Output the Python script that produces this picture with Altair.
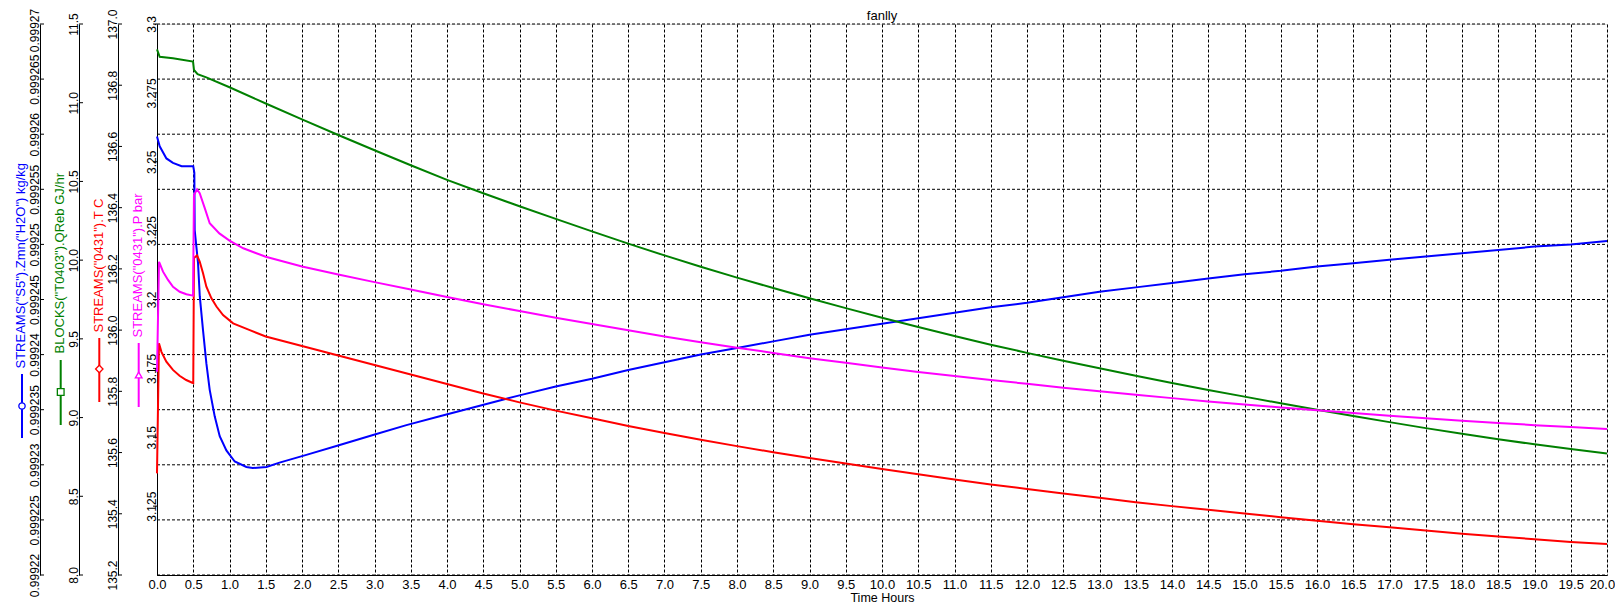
import altair as alt
import pandas as pd

FONT = "Liberation Sans, Arial, sans-serif"

# ---------------- data ----------------
# STREAMS("S5").Zmn("H2O") kg/kg  (blue)
t_blue = [0.0, 0.037, 0.13, 0.22, 0.34, 0.5, 0.515, 0.52, 0.566, 0.59,
          0.635, 0.681, 0.727, 0.796, 0.865, 0.957, 1.072, 1.233, 1.32, 1.51,
          1.69, 2.06, 2.52, 2.98, 3.44, 3.9, 4.36, 4.82,
          5.0, 5.5, 6.0, 6.5, 7.0, 7.5, 8.0, 8.5, 9.0, 9.5, 10.0, 10.5, 11.0, 11.5,
          12.0, 12.5, 13.0, 13.5, 14.0, 14.5, 15.0, 15.5, 16.0, 16.5, 17.0, 17.5,
          18.0, 18.5, 19.0, 19.5, 20.0]
zmn_h2o = [0.9992598, 0.9992589, 0.9992578, 0.9992574, 0.9992571, 0.9992571, 0.9992565, 0.9992513, 0.9992483, 0.9992453,
           0.9992422, 0.9992392, 0.9992368, 0.9992344, 0.9992326, 0.9992313, 0.9992303, 0.9992298, 0.9992297, 0.9992298,
           0.9992302, 0.9992309, 0.9992318, 0.9992327, 0.9992336, 0.9992344, 0.9992352, 0.9992360,
           0.9992363, 0.9992371, 0.9992378, 0.9992386, 0.9992393, 0.9992400, 0.9992406, 0.9992412, 0.9992418, 0.9992423,
           0.9992428, 0.9992433, 0.9992438, 0.9992443, 0.9992447, 0.9992452, 0.9992457, 0.9992461, 0.9992465, 0.9992469,
           0.9992473, 0.9992476, 0.9992480, 0.9992483, 0.9992486, 0.9992489, 0.9992492, 0.9992495, 0.9992498, 0.9992500,
           0.9992503]

# BLOCKS("T0403").QReb GJ/hr  (green)
t_green = [0.0, 0.037, 0.22, 0.497, 0.51, 0.56, 0.68,
           1.0, 1.5, 2.0, 2.5, 3.0, 3.5, 4.0, 4.5, 5.0, 5.5, 6.0, 6.5, 7.0, 7.5, 8.0, 8.5,
           9.0, 9.5, 10.0, 10.5, 11.0, 11.5, 12.0, 12.5, 13.0, 13.5, 14.0, 14.5, 15.0, 15.5,
           16.0, 16.5, 17.0, 17.5, 18.0, 18.5, 19.0, 19.5, 20.0]
qreb = [11.339, 11.292, 11.282, 11.261, 11.208, 11.182, 11.161,
        11.098, 10.995, 10.894, 10.795, 10.698, 10.603, 10.510, 10.425, 10.342, 10.262, 10.183, 10.105,
        10.030, 9.958, 9.889, 9.823, 9.758, 9.695, 9.634, 9.575, 9.518, 9.463, 9.411, 9.361, 9.313,
        9.265, 9.219, 9.175, 9.133, 9.091, 9.050, 9.010, 8.971, 8.933, 8.897, 8.863, 8.830, 8.800, 8.772]

# STREAMS("0431").T C  (red)
t_red = [0.0, 0.027, 0.061, 0.129, 0.22, 0.311, 0.403, 0.486, 0.5, 0.51,
         0.552, 0.589, 0.635, 0.681, 0.751, 0.82, 0.911, 1.05, 1.28, 1.5,
         2.0, 2.5, 3.0, 3.5, 4.0, 4.5, 5.0, 5.5, 6.0, 6.5, 7.0, 7.5, 8.0, 8.5,
         9.0, 9.5, 10.0, 10.5, 11.0, 11.5, 12.0, 12.5, 13.0, 13.5, 14.0, 14.5, 15.0, 15.5,
         16.0, 16.5, 17.0, 17.5, 18.0, 18.5, 19.0, 19.5, 20.0]
temp_c = [135.532, 135.957, 135.929, 135.897, 135.870, 135.851, 135.837, 135.828, 135.827, 136.236,
          136.244, 136.224, 136.186, 136.142, 136.104, 136.077, 136.049, 136.022, 136.000, 135.979,
          135.948, 135.917, 135.886, 135.855, 135.824, 135.793, 135.764, 135.737, 135.712, 135.687,
          135.664, 135.642, 135.621, 135.601, 135.582, 135.564, 135.546, 135.529, 135.512, 135.496,
          135.481, 135.466, 135.452, 135.438, 135.425, 135.413, 135.401, 135.389, 135.377, 135.366,
          135.356, 135.345, 135.335, 135.326, 135.317, 135.308, 135.301]

# STREAMS("0431").P bar  (magenta)
t_mag = [0.0, 0.028, 0.037, 0.083, 0.152, 0.221, 0.313, 0.405, 0.497, 0.51,
         0.552, 0.589, 0.66, 0.727, 0.86, 1.0, 1.19, 1.5,
         2.0, 2.5, 3.0, 3.5, 4.0, 4.5, 5.0, 5.5, 6.0, 6.5, 7.0, 7.5, 8.0, 8.5,
         9.0, 9.5, 10.0, 10.5, 11.0, 11.5, 12.0, 12.5, 13.0, 13.5, 14.0, 14.5, 15.0, 15.5,
         16.0, 16.5, 17.0, 17.5, 18.0, 18.5, 19.0, 19.5, 20.0]
pres_bar = [3.1738, 3.2137, 3.2131, 3.2101, 3.2071, 3.2046, 3.2028, 3.2019, 3.2014, 3.2379,
            3.2400, 3.2386, 3.2331, 3.2277, 3.2240, 3.2214, 3.2186, 3.2155,
            3.2120, 3.2091, 3.2063, 3.2036, 3.2009, 3.1983, 3.1958, 3.1934, 3.1911, 3.1888,
            3.1866, 3.1845, 3.1825, 3.1806, 3.1787, 3.1770, 3.1753, 3.1737, 3.1722, 3.1708,
            3.1694, 3.1680, 3.1667, 3.1654, 3.1642, 3.1630, 3.1619, 3.1608, 3.1598, 3.1588,
            3.1578, 3.1569, 3.1560, 3.1552, 3.1544, 3.1537, 3.1530]

# axis tick labels
x_ticks = [0.0, 0.5, 1.0, 1.5, 2.0, 2.5, 3.0, 3.5, 4.0, 4.5, 5.0, 5.5, 6.0, 6.5, 7.0, 7.5,
           8.0, 8.5, 9.0, 9.5, 10.0, 10.5, 11.0, 11.5, 12.0, 12.5, 13.0, 13.5, 14.0, 14.5,
           15.0, 15.5, 16.0, 16.5, 17.0, 17.5, 18.0, 18.5, 19.0, 19.5, 20.0]
blue_ticks = [0.99922, 0.999225, 0.99923, 0.999235, 0.99924, 0.999245, 0.99925,
              0.999255, 0.99926, 0.999265, 0.99927]
green_ticks = [8.0, 8.5, 9.0, 9.5, 10.0, 10.5, 11.0, 11.5]
red_ticks = [135.2, 135.4, 135.6, 135.8, 136.0, 136.2, 136.4, 136.6, 136.8, 137.0]
mag_ticks = [3.125, 3.15, 3.175, 3.2, 3.225, 3.25, 3.275, 3.3]

BLUE, GREEN, RED, MAGENTA = "#0000FF", "#008000", "#FF0000", "#FF00FF"
W, H = 1450, 551

X = alt.X("t:Q",
          scale=alt.Scale(domain=[0, 20], nice=False, zero=False),
          axis=alt.Axis(values=x_ticks, format=".1f", title="Time Hours",
                        grid=True, gridDash=[3, 2], gridColor="black", gridWidth=1, gridOpacity=1,
                        ticks=False, domainColor="black", domainWidth=1,
                        labelFont=FONT, labelFontSize=13, labelColor="black", labelPadding=3,
                        labelFlush=False, labelOverlap=False,
                        labelOffset={"condition": {"test": "datum.value >= 19.99", "value": -5},
                                     "value": 0},
                        titleFont=FONT, titleFontSize=12.5, titleFontWeight="normal", titleColor="black",
                        titleY=26, titleBaseline="alphabetic"))


def y_axis(ticks, fmt, title, color, offset, title_y, top_shift):
    return alt.Axis(orient="left", offset=offset, values=ticks, format=fmt, title=title,
                    titleColor=color, titleFont=FONT, titleFontSize=13, titleFontWeight="normal",
                    titleAngle=270, titleAlign="left", titleBaseline="alphabetic",
                    titleX=-16, titleY=title_y,
                    labelAngle=270, labelAlign="center", labelBaseline="alphabetic",
                    labelOffset={"condition": {"test": f"datum.value >= {ticks[-1]} - 1e-9",
                                               "value": top_shift},
                                 "value": 0},
                    labelPadding=1.5, labelFont=FONT, labelFontSize=12, labelColor="black",
                    labelOverlap=False, labelFlush=False,
                    ticks=False, domainColor="black", domainWidth=1, grid=False)


def series(t, v, field, color, domain, ticks, fmt, title, offset, title_y, tick_x0, tick_x1,
           top_shift=0, grid=False):
    df = pd.DataFrame({"t": t, field: v})
    tdf = pd.DataFrame({field: ticks})
    y = alt.Y(f"{field}:Q", scale=alt.Scale(domain=domain, nice=False, zero=False),
              axis=y_axis(ticks, fmt, title, color, offset, title_y, top_shift))
    parts = []
    if grid:
        parts.append(alt.Chart(tdf).mark_rule(color="black", strokeWidth=1, strokeDash=[3, 2])
                     .encode(y=y, x=alt.value(0), x2=alt.value(W)))
    parts.append(alt.Chart(tdf).mark_rule(color="black", strokeWidth=1)
                 .encode(y=y, x=alt.value(tick_x0), x2=alt.value(tick_x1)))
    parts.append(alt.Chart(df).mark_line(color=color, strokeWidth=2).encode(x=X, y=y))
    return alt.layer(*parts)


blue = series(t_blue, zmn_h2o, "zmn", BLUE, [0.99922, 0.99927], blue_ticks, ".6~f",
              'STREAMS("S5").Zmn("H2O") kg/kg', 117, 344, -117, -113, top_shift=6, grid=True)
green = series(t_green, qreb, "qreb", GREEN, [8.0, 11.5], green_ticks, ".1f",
               'BLOCKS("T0403").QReb GJ/hr', 78, 329, -78, -74)
red = series(t_red, temp_c, "temp", RED, [135.2, 137.0], red_ticks, ".1f",
             'STREAMS("0431").T C', 39, 308, -39, -35)
mag = series(t_mag, pres_bar, "pres", MAGENTA, [3.1, 3.3], mag_ticks, ".3~f",
             'STREAMS("0431").P bar', 0, 313, -4, 0)

# legend symbols under the rotated axis titles
one = pd.DataFrame({"k": [0]})
legend = []
for color, x, y1, y2, ym, shape, size in [
        (BLUE, -135, 350, 414, 382, "circle", 40),
        (GREEN, -96.3, 336, 401, 368, "square", 45),
        (RED, -57.7, 314, 378, 345, "diamond", 55),
        (MAGENTA, -18.3, 319, 383, 351, "triangle-up", 45)]:
    legend.append(alt.Chart(one).mark_rule(color=color, strokeWidth=2)
                  .encode(x=alt.value(x), y=alt.value(y1), y2=alt.value(y2)))
    legend.append(alt.Chart(one).mark_point(shape=shape, size=size, filled=True, fill="white",
                                            stroke=color, strokeWidth=1.3, opacity=1)
                  .encode(x=alt.value(x), y=alt.value(ym)))

# plot title drawn as text above the plot area
title_mark = (alt.Chart(one)
              .mark_text(text="fanlly", font=FONT, fontSize=13, color="black",
                         align="center", baseline="alphabetic")
              .encode(x=alt.value(W / 2), y=alt.value(-4)))

chart = (alt.layer(blue, green, red, mag, *legend, title_mark)
         .resolve_scale(y="independent")
         .properties(width=W, height=H,
                     padding={"left": 149, "top": 16, "right": 8, "bottom": 29},
                     autosize=alt.AutoSizeParams(type="none"))
         .configure_view(stroke="transparent")
         .configure(background="white"))

chart.save("out.html", embed_options={"renderer": "svg", "actions": False})
